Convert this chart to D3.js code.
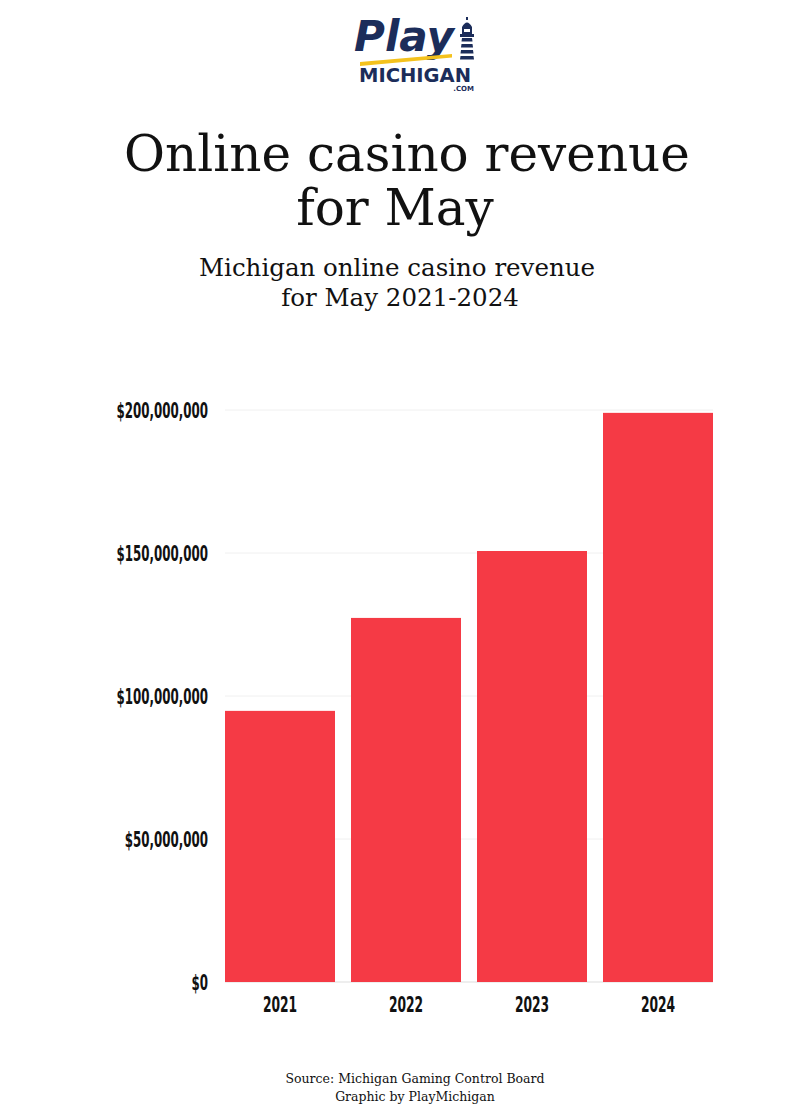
<!DOCTYPE html>
<html><head><meta charset="utf-8">
<script src="https://cdn.jsdelivr.net/npm/d3@7"></script>
<style>
body{margin:0;background:#fff;}
svg{display:block;}
</style></head>
<body>
<svg id="chart" width="800" height="1120"></svg>
<script>
const years = ["2021","2022","2023","2024"];
const revenue = [94800000, 127300000, 150700000, 199000000];
const yTicks = [0, 50000000, 100000000, 150000000, 200000000];
const titleLines = ["Online casino revenue", "for May"];
const subtitleLines = ["Michigan online casino revenue", "for May 2021-2024"];
const sourceLines = ["Source: Michigan Gaming Control Board", "Graphic by PlayMichigan"];

const svg = d3.select("#chart");
const serif = "'DejaVu Serif', 'Liberation Serif', serif";
const sans = "'DejaVu Sans', sans-serif";
const navy = "#1c2d5a";

// Logo
const logo = svg.append("g");
logo.append("text").attr("x", 354).attr("y", 51)
  .attr("font-family",sans).attr("font-weight","bold").attr("font-style","italic")
  .attr("font-size",42).attr("fill",navy)
  .attr("textLength",100).attr("lengthAdjust","spacingAndGlyphs").text("Play");
logo.append("path").attr("d","M360,62 L452,54 L452,57.5 L360,66 Z").attr("fill","#f4c21d");
logo.append("text").attr("x", 359).attr("y", 82)
  .attr("font-family",sans).attr("font-weight","bold")
  .attr("font-size",20).attr("fill",navy)
  .attr("textLength",112).attr("lengthAdjust","spacingAndGlyphs").text("MICHIGAN");
logo.append("text").attr("x", 474).attr("y", 91).attr("text-anchor","end")
  .attr("font-family",sans).attr("font-weight","bold")
  .attr("font-size",7).attr("fill",navy).text(".COM");
// lighthouse
const lh = logo.append("g").attr("fill",navy);
lh.append("path").attr("d","M462,27 Q467,18 472,27 Z");
lh.append("rect").attr("x",466).attr("y",17).attr("width",2).attr("height",3);
lh.append("rect").attr("x",462).attr("y",27).attr("width",10).attr("height",7);
lh.append("rect").attr("x",464).attr("y",29).attr("width",6).attr("height",3).attr("fill","#fff");
lh.append("rect").attr("x",460).attr("y",34).attr("width",14).attr("height",3);
[38,44,50,56].forEach((y,i)=>{
  lh.append("path").attr("d",`M${462-i*0.5},${y} L${472+i*0.5},${y} L${472.5+i*0.5},${y+3.5} L${461.5-i*0.5},${y+3.5} Z`);
});

// Titles
svg.append("g").selectAll("text").data(titleLines).join("text")
  .attr("x",(d,i)=> i===0 ? 407 : 395).attr("y",(d,i)=>171+i*54)
  .attr("text-anchor","middle").attr("font-family",serif).attr("font-size",50).attr("fill","#111")
  .text(d=>d);
svg.append("g").selectAll("text").data(subtitleLines).join("text")
  .attr("x",(d,i)=> i===0 ? 397 : 400).attr("y",(d,i)=>276+i*30)
  .attr("text-anchor","middle").attr("font-family",serif).attr("font-size",24.5).attr("fill","#111")
  .text(d=>d);
svg.append("g").selectAll("text").data(sourceLines).join("text")
  .attr("x",415).attr("y",(d,i)=>1083+i*18)
  .attr("text-anchor","middle").attr("font-family",serif).attr("font-size",12.5).attr("fill","#111")
  .text(d=>d);

// Chart
const x = d3.scaleBand().domain(years).range([225,713]).paddingInner(0.127).paddingOuter(0);
const y = d3.scaleLinear().domain([0,200000000]).range([982,410]);

const grid = svg.append("g");
grid.selectAll("line").data(yTicks).join("line")
  .attr("x1",225).attr("x2",713).attr("y1",d=>y(d)).attr("y2",d=>y(d))
  .attr("stroke",d=> d===0 ? "#dddddd" : "#f0f0f0").attr("stroke-width",1);

svg.append("g").selectAll("rect").data(years).join("rect")
  .attr("x",d=>x(d)).attr("width",x.bandwidth())
  .attr("y",(d,i)=>y(revenue[i])).attr("height",(d,i)=>y(0)-y(revenue[i]))
  .attr("fill","#f53a45");

const fmt = d3.format("$,");
const yAxis = svg.append("g").attr("transform","translate(208,0)")
  .call(d3.axisLeft(y).tickValues(yTicks).tickFormat(fmt).tickSize(0).tickPadding(0));
yAxis.select(".domain").remove();
yAxis.selectAll("text").attr("font-family",sans).attr("font-weight","bold").attr("font-size",22)
  .attr("fill","#111").attr("transform","scale(0.54,1)");

const xAxis = svg.append("g").attr("transform","translate(0,993)")
  .call(d3.axisBottom(x).tickSize(0).tickPadding(3));
xAxis.select(".domain").remove();
xAxis.selectAll("text").attr("font-family",sans).attr("font-weight","bold").attr("font-size",22)
  .attr("fill","#111").attr("transform","scale(0.56,1)");
</script>
</body></html>
